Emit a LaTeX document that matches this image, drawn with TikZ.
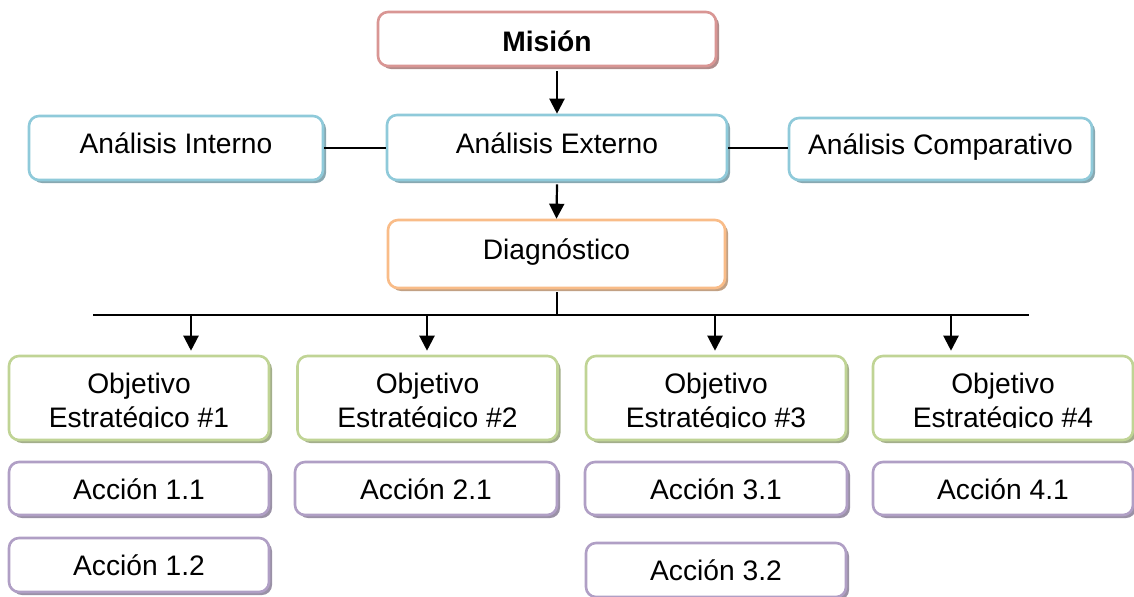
\documentclass[tikz,border=0pt]{standalone}
\usepackage{fontspec}
\setmainfont{Liberation Sans}
\usetikzlibrary{shadows,arrows.meta}

\definecolor{misionc}{HTML}{D99694}
\definecolor{analisisc}{HTML}{8FCADA}
\definecolor{diagc}{HTML}{F9BC88}
\definecolor{objc}{HTML}{C0D495}
\definecolor{accionc}{HTML}{B09FC5}

\newcommand{\boxfont}{\fontsize{14.1pt}{17pt}\selectfont}

\tikzset{
  box/.style={draw=#1, line width=1.3pt, rounded corners=5pt, fill=white,
    drop shadow={shadow xshift=1.5pt, shadow yshift=-1.5pt, fill=#1!55!gray, opacity=1},
    inner sep=0pt, font=\boxfont, text height=10.6pt, text depth=0pt},
  raised/.style={text depth=5pt},
  otext/.style={inner sep=0pt, align=center, font=\boxfont, anchor=north},
  link/.style={line width=1pt},
  arrowlink/.style={line width=1.1pt, -{Triangle[width=7.5pt,length=7.5pt]}},
}

\begin{document}
\begin{tikzpicture}[x=0.5pt,y=-0.5pt]
  \clip (0,0) rectangle (1134,596);

  % top levels
  \node[box=misionc, minimum width=169pt, minimum height=27pt, text height=12.4pt, font=\boxfont\bfseries]
    (mision) at (547,39) {Misión};
  \node[box=analisisc, raised, minimum width=147pt, minimum height=32pt] (ai) at (176,148) {Análisis Interno};
  \node[box=analisisc, raised, minimum width=170pt, minimum height=32.5pt] (ae) at (557,147.5) {Análisis Externo};
  \node[box=analisisc, raised, minimum width=151.5pt, minimum height=31pt] (ac) at (940.5,149) {Análisis Comparativo};
  \node[box=diagc, raised, minimum width=168.5pt, minimum height=34pt] (dg) at (556.5,254) {Diagnóstico};

  % strategic objectives (frames)
  \foreach \n/\x in {1/139,2/427.5,3/716,4/1003}
    \node[box=objc, minimum width=130pt, minimum height=42pt] (o\n) at (\x,398) {};

  % objective labels, cut off just below the second baseline
  \begin{scope}
    \clip (0,340) rectangle (1134,427.8);
    \node[otext] (o1t) at (139,372.5) {Objetivo\\Estratégico \#1};
    \node[otext] (o2t) at (427.5,372.5) {Objetivo\\Estratégico \#2};
    \node[otext] (o3t) at (716,372.5) {Objetivo\\Estratégico \#3};
    \node[otext] (o4t) at (1003,372.5) {Objetivo\\Estratégico \#4};
  \end{scope}

  % actions
  \node[box=accionc, minimum width=130pt, minimum height=26.5pt] (a11) at (139,488.5) {Acción 1.1};
  \node[box=accionc, minimum width=130pt, minimum height=27pt] (a12) at (139,565) {Acción 1.2};
  \node[box=accionc, minimum width=131pt, minimum height=26.5pt] (a21) at (426,488.5) {Acción 2.1};
  \node[box=accionc, minimum width=131pt, minimum height=26.5pt] (a31) at (716,488.5) {Acción 3.1};
  \node[box=accionc, minimum width=130pt, minimum height=27pt] (a32) at (716,570) {Acción 3.2};
  \node[box=accionc, minimum width=130pt, minimum height=26.5pt] (a41) at (1003,488.5) {Acción 4.1};

  % connectors
  \draw[arrowlink] (ae.north |- mision.south) ++(0,4) -- (ae.north);
  \draw[link] (ai.east) -- (ai.east -| ae.west);
  \draw[link] (ae.east) -- (ae.east -| ac.west);
  \draw[arrowlink] (ae.south) ++(0,3) -- (dg.north);

  \coordinate (bus) at (557,315);
  \coordinate (busL) at (93,315);
  \coordinate (busR) at (1029,315);
  \coordinate (b1) at (191,315);
  \coordinate (b2) at (427,315);
  \coordinate (b3) at (715,315);
  \coordinate (b4) at (951,315);
  \draw[link] (bus |- dg.south) ++(0,3) -- (bus);
  \draw[link] (busL) -- (busR);
  \foreach \n in {1,2,3,4}
    \draw[arrowlink, shorten >=2pt] (b\n) -- (b\n |- o\n.north);
\end{tikzpicture}
\end{document}
